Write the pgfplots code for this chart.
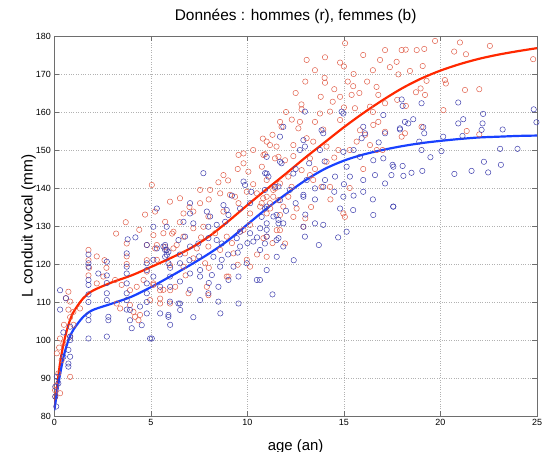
\documentclass[border=0pt]{standalone}
\usepackage{fontspec}
\setmainfont{Liberation Sans}
\usepackage{pgfplots}
\pgfplotsset{compat=1.18}
\definecolor{mred}{RGB}{225,95,75}
\definecolor{mblue}{RGB}{65,65,175}
\definecolor{lred}{RGB}{255,40,0}
\definecolor{lblue}{RGB}{25,65,255}
\definecolor{frame}{RGB}{110,110,110}
\begin{document}
\begin{tikzpicture}
\path[use as bounding box] (-54.3bp,-36bp) rectangle (491.7bp,416bp);
\begin{axis}[
  scale only axis, width=482.7bp, height=380bp,
  xmin=0, xmax=25, ymin=80, ymax=180,
  xtick={0,5,...,25}, ytick={80,90,...,180},
  grid=major,
  major grid style={dotted, gray!60, line width=0.45pt},
  tick align=inside, major tick length=5bp,
  tick style={frame, line width=0.6pt},
  axis line style={frame, line width=0.8pt},
  ticklabel style={font=\fontsize{9}{10}\selectfont},
  /pgf/number format/assume math mode=true,
  title={Données : hommes (r), femmes (b)},
  title style={font=\fontsize{15.5}{17}\selectfont, at={(axis description cs:0.5,1.026)}, anchor=base, yshift=0pt},
  xlabel={age (an)},
  xlabel style={font=\fontsize{15}{17}\selectfont, at={(axis description cs:0.5,-0.0895)}, anchor=base, yshift=0pt},
  ylabel={L conduit vocal (mm)},
  ylabel style={font=\fontsize{15.5}{17}\selectfont, at={(axis description cs:-0.053,0.5)}, anchor=center},
]
% hommes (rouge)
\addplot[only marks, mark=o, mark size=2.7bp, mred, mark options={line width=0.5pt}] table {
x y
17.99 176.3
18.77 176.3
19.16 176.6
19.72 178.7
21.01 178.3
20.71 175.9
21.32 175.2
22.56 177.4
17.73 173.2
17.38 171.8
17.82 169.9
18.42 170.8
19.08 172.1
19.28 168.2
18.97 166.2
18.73 165.2
19.20 164.5
17.76 163.2
18.21 161.6
20.23 168.4
20.28 167.5
21.27 165.8
22.01 166.0
20.15 160.5
21.36 155.0
22.01 154.1
19.02 156.1
17.99 153.5
18.16 154.4
24.80 173.9
15.06 178.1
17.13 176.3
18.20 176.4
13.07 173.7
14.02 174.4
16.87 173.7
12.50 165.0
13.00 168.0
13.50 171.0
14.00 169.0
14.50 166.0
15.00 172.0
15.50 170.0
16.00 175.0
16.50 171.0
15.20 168.0
14.80 173.0
12.80 162.0
13.80 164.0
16.20 168.0
15.80 165.0
14.02 167.7
15.48 166.8
16.69 166.6
14.80 164.0
15.40 164.5
16.78 164.5
14.42 162.7
15.00 161.2
15.57 161.0
16.35 161.4
17.13 162.3
12.81 160.7
13.76 159.6
14.28 160.1
13.50 157.4
12.72 157.4
11.69 157.4
11.77 156.1
12.64 155.7
14.80 157.9
16.78 157.4
15.83 155.2
16.52 156.6
17.13 154.8
13.93 155.4
13.07 153.1
13.41 152.2
11.17 151.3
11.51 150.9
11.00 152.2
12.38 151.3
14.10 150.9
14.71 150.0
15.66 152.2
16.35 151.3
10.91 148.9
11.43 147.8
11.95 147.3
12.38 148.4
13.24 147.8
14.10 146.9
12.81 144.7
13.24 143.4
12.12 143.0
11.00 142.1
11.69 141.2
11.34 139.5
12.29 140.3
14.28 140.3
10.82 137.3
11.17 136.0
11.86 135.1
12.55 134.6
11.00 133.3
11.69 132.9
12.38 132.4
14.97 133.3
15.05 132.4
11.00 127.2
11.95 125.4
11.69 128.9
12.90 129.8
13.84 140.3
13.41 142.1
10.74 136.0
11.34 137.7
12.12 137.7
9.54 148.7
9.80 149.1
10.83 148.7
11.61 148.2
8.76 143.4
10.05 144.3
10.75 145.6
5.05 140.8
5.99 136.4
6.51 137.3
7.55 139.5
8.07 139.5
8.59 138.6
9.10 138.2
9.36 137.7
9.97 139.0
10.49 138.6
11.00 137.7
11.44 139.9
5.22 133.8
5.74 131.1
6.69 133.3
7.20 133.8
7.55 136.0
7.98 132.5
8.76 133.8
9.54 136.0
10.14 133.3
10.66 135.1
11.18 134.6
11.61 136.8
5.13 127.6
5.65 128.1
6.17 128.5
6.69 127.2
7.20 129.4
7.72 129.8
8.33 128.1
8.93 127.2
9.62 128.5
10.14 130.3
10.83 126.8
11.52 128.9
5.22 124.1
5.82 123.7
6.34 125.0
6.77 122.8
7.38 124.1
7.98 124.6
8.59 123.7
9.28 122.8
9.97 121.1
11.00 121.9
5.31 121.1
5.99 119.7
6.69 119.3
7.20 121.5
7.81 120.2
8.93 116.7
10.14 119.3
5.13 114.9
5.65 113.2
6.26 114.0
6.95 112.3
7.90 114.0
9.02 116.7
5.48 109.6
5.99 109.6
7.98 111.8
1.77 123.7
3.75 125.4
4.79 125.0
5.31 125.0
5.74 124.5
6.17 124.1
2.20 114.9
2.54 116.7
3.15 115.8
3.49 114.5
3.92 113.1
4.27 114.0
4.62 115.8
5.13 114.5
5.48 113.1
6.00 113.1
0.73 112.7
0.82 110.1
0.99 107.4
1.33 108.3
3.23 109.6
3.41 108.3
3.92 109.2
4.10 107.4
4.44 106.6
4.96 110.5
5.48 110.9
4.18 106.1
0.30 100.4
0.47 99.1
0.82 100.9
0.13 96.5
0.38 94.7
0.82 90.3
0.21 91.2
0.04 86.8
0.05 85.1
0.30 86.0
4.36 105.2
3.20 128.0
3.70 131.0
4.40 129.0
4.70 133.0
2.60 121.0
1.80 119.0
0.50 104.0
0.25 98.0
0.10 88.0
0.60 111.0
1.77 121.0
1.77 117.0
2.70 119.0
3.75 120.0
3.75 122.0
4.79 121.0
4.79 118.0
2.20 122.0
0.82 106.0
0.73 108.0
0.99 104.0
6.50 131.0
7.00 135.0
8.00 137.0
9.00 142.0
9.50 145.0
10.30 150.0
10.80 153.0
11.30 154.0
12.00 160.0
12.30 158.0
9.80 146.5
8.50 141.5
10.30 141.0
13.50 145.0
14.50 148.0
15.30 150.0
16.10 154.0
16.70 150.0
14.30 137.0
13.30 135.0
13.00 132.0
15.30 140.0
16.00 145.0
17.00 150.0
16.50 160.0
6.10 128.0
7.60 127.0
9.20 125.5
9.80 129.0
8.00 119.0
6.80 117.0
9.50 119.8
10.50 122.5
11.30 125.5
};
% femmes (bleu)
\addplot[only marks, mark=o, mark size=2.7bp, mblue, mark options={line width=0.5pt}] table {
x y
17.99 163.3
18.04 161.6
19.02 162.3
20.92 162.5
24.83 160.7
22.21 159.5
21.18 158.1
20.92 157.0
22.18 157.0
24.97 157.3
18.59 158.1
18.16 157.4
18.33 157.0
17.90 155.4
19.11 156.0
19.16 154.4
18.90 152.2
20.14 153.5
21.14 153.7
22.13 155.3
23.22 155.4
19.02 150.0
20.05 149.7
19.48 148.1
23.09 150.3
23.99 150.3
17.52 146.1
18.04 145.8
18.50 144.0
18.08 143.2
19.06 144.5
20.72 143.7
21.61 144.5
22.25 146.9
22.47 144.1
23.13 146.1
17.55 135.1
17.46 143.4
12.98 160.1
13.84 155.2
13.93 154.4
14.88 160.1
14.97 159.6
16.00 156.1
16.09 154.4
15.92 153.1
17.04 159.2
17.13 154.4
17.90 155.7
11.86 156.1
11.69 153.5
12.90 152.6
12.98 150.9
11.00 148.2
11.69 146.9
12.72 150.0
13.76 150.0
14.97 149.5
15.14 145.6
15.83 148.2
16.52 147.3
17.04 147.8
17.56 145.6
11.00 143.8
11.77 146.5
12.38 143.8
13.07 142.1
14.02 142.1
14.54 143.0
15.31 143.0
16.00 142.1
16.61 143.4
17.13 141.2
10.91 139.5
11.43 140.3
12.20 139.5
12.90 138.2
13.50 139.9
13.93 140.3
14.97 137.7
11.00 135.1
11.69 136.8
12.90 137.7
10.74 132.4
11.51 132.9
11.00 130.7
11.86 130.7
12.90 129.8
13.50 130.7
13.93 130.3
14.80 134.6
15.48 134.2
16.52 132.9
17.56 135.1
15.14 128.5
11.51 126.3
11.86 124.6
10.91 125.4
11.00 118.4
10.65 115.8
12.98 127.2
7.72 143.9
10.92 143.9
11.09 143.0
9.80 141.7
9.88 140.8
11.61 140.4
5.31 134.6
7.03 136.0
7.03 133.3
7.90 133.8
8.07 132.5
8.76 135.5
8.93 134.2
9.02 132.9
9.62 134.6
10.14 136.0
10.92 134.6
5.13 129.8
5.82 129.8
6.69 131.1
7.20 130.7
7.98 129.8
8.41 130.3
8.85 131.1
9.62 128.5
10.14 128.1
10.66 129.4
11.35 132.5
11.61 131.6
5.65 124.6
5.82 123.7
6.43 126.3
6.77 127.2
7.03 124.6
7.46 125.4
7.98 126.8
8.41 126.3
8.67 125.4
9.45 126.8
9.62 124.6
10.31 125.9
11.00 127.2
11.61 126.8
5.13 121.1
5.74 121.9
6.51 120.2
7.03 117.5
7.55 118.4
8.24 121.9
8.67 121.1
9.28 119.3
9.97 120.2
10.66 123.7
11.52 121.9
5.13 116.7
5.48 114.0
5.99 116.7
6.51 115.4
7.03 113.2
7.55 116.7
8.16 117.1
8.59 119.3
9.02 115.8
9.54 116.7
10.49 115.8
5.99 110.1
6.51 109.6
7.55 110.5
7.98 112.3
8.50 110.1
9.54 109.6
5.48 107.0
5.91 106.6
5.05 100.4
11.61 130.7
0.30 113.1
2.72 120.6
3.75 122.8
4.79 125.0
5.31 124.1
5.74 125.0
5.91 123.2
1.77 120.2
1.77 119.3
1.77 115.8
1.77 114.5
2.28 117.5
2.72 112.3
2.72 110.5
2.80 106.1
2.80 105.2
3.75 119.3
3.75 117.5
3.75 114.9
3.75 112.3
3.75 110.5
3.92 107.9
3.92 105.2
4.01 103.1
4.44 108.8
4.53 103.9
4.79 120.2
4.79 118.4
4.79 114.9
4.79 112.3
4.96 100.4
5.74 123.7
5.83 122.4
5.91 120.2
6.00 114.0
6.43 109.6
6.52 107.9
5.91 106.1
0.82 103.5
0.82 100.0
0.73 97.4
0.73 93.8
0.73 93.0
0.13 90.3
0.21 88.6
0.05 87.7
0.05 85.1
1.77 100.4
2.72 100.9
1.77 105.2
1.77 106.6
0.82 100.9
0.47 95.6
0.82 95.6
4.20 127.0
3.80 126.5
1.77 122.5
0.10 82.5
0.47 102.0
0.30 108.0
0.60 111.0
1.77 110.0
1.77 112.0
2.72 115.0
2.72 117.0
3.75 108.0
4.79 110.0
4.79 107.0
6.00 119.0
6.50 122.5
7.00 121.0
7.50 122.0
8.00 115.0
8.50 114.0
9.00 122.5
9.50 123.0
10.00 125.5
10.50 127.0
11.00 129.0
12.00 134.0
12.50 136.0
13.00 133.0
13.50 137.0
14.50 139.0
15.00 141.0
15.50 138.0
16.00 139.0
16.50 137.0
12.50 145.0
14.00 147.0
15.50 150.0
16.80 152.0
13.20 146.5
9.20 138.0
10.20 139.0
6.00 104.0
7.20 106.0
8.60 107.0
11.30 112.0
12.40 121.0
13.70 125.0
14.70 127.0
};
% courbes moyennes
\addplot[lred, line width=2.2pt, smooth, tension=0.5] coordinates {
(0,82) (0.15,88) (0.3,94) (0.5,99.5) (0.75,104.3) (1,107.4) (1.5,111)
(2,113) (3,115.2) (4,117) (5,119.2) (6,121.5) (7,124) (8,127.2) (9,131.2)
(10,135.5) (11,139.7) (12,143.8) (13,148) (14,152) (15,156) (16,159.7)
(17,163.1) (18,166.2) (19,168.8) (20,170.9) (21,172.6) (22,174) (23,175.1)
(24,176) (25,176.8)
};
\addplot[lblue, line width=2.2pt, smooth, tension=0.5] coordinates {
(0,81.5) (0.15,86.5) (0.3,91) (0.5,96) (0.75,100.2) (1,102.8) (1.5,106.1)
(2,107.9) (3,109.6) (4,111.4) (5,113.9) (6,116.7) (7,119.6) (8,122.7)
(9,126.2) (10,130.4) (11,134.6) (12,138.4) (13,142) (14,145) (15,147.2)
(16,148.8) (17,150) (18,151) (19,151.8) (20,152.4) (21,152.9) (22,153.3)
(23,153.5) (24,153.7) (25,153.8)
};
\end{axis}
\end{tikzpicture}
\end{document}
